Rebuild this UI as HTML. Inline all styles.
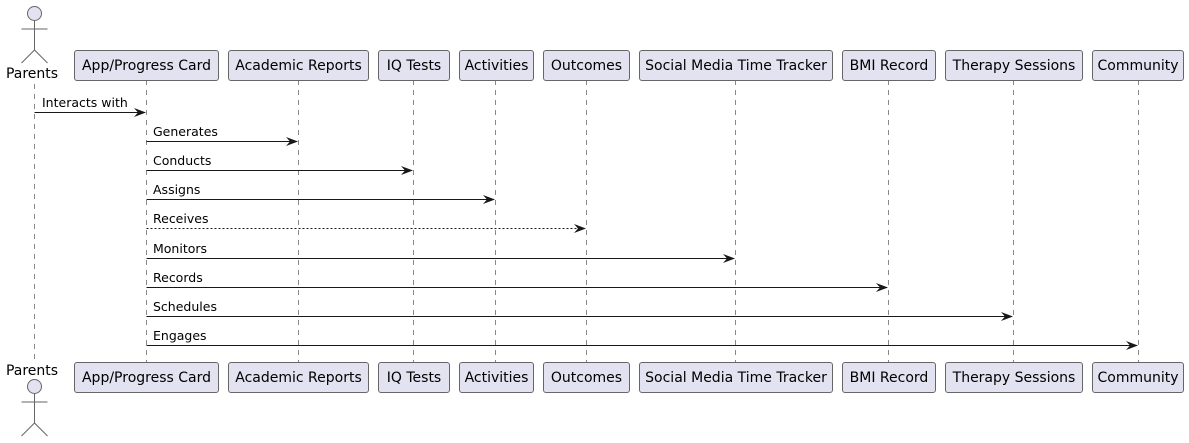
<!DOCTYPE html>
<html><head><meta charset="utf-8"><style>
html,body{margin:0;padding:0;background:#fff;}
svg{display:block;}
text{font-family:"DejaVu Sans","Liberation Sans",sans-serif;}
</style></head><body>
<svg width="1189" height="443" viewBox="0 0 1189 443" xmlns="http://www.w3.org/2000/svg">
<g stroke="#888" stroke-width="1" stroke-dasharray="5,5">
<line x1="34.5" y1="84" x2="34.5" y2="362"/>
<line x1="146.5" y1="80" x2="146.5" y2="362"/>
<line x1="298.5" y1="80" x2="298.5" y2="362"/>
<line x1="413.5" y1="80" x2="413.5" y2="362"/>
<line x1="495.5" y1="80" x2="495.5" y2="362"/>
<line x1="586.5" y1="80" x2="586.5" y2="362"/>
<line x1="735.5" y1="80" x2="735.5" y2="362"/>
<line x1="888.5" y1="80" x2="888.5" y2="362"/>
<line x1="1013.5" y1="80" x2="1013.5" y2="362"/>
<line x1="1138.5" y1="80" x2="1138.5" y2="362"/>
</g>
<g fill="#E2E2F0" stroke="#666" stroke-width="1">
<rect x="74.5" y="50.5" width="144" height="30" rx="2.5"/>
<rect x="228.5" y="50.5" width="140" height="30" rx="2.5"/>
<rect x="378.5" y="50.5" width="71" height="30" rx="2.5"/>
<rect x="459.5" y="50.5" width="74" height="30" rx="2.5"/>
<rect x="543.5" y="50.5" width="86" height="30" rx="2.5"/>
<rect x="639.5" y="50.5" width="193" height="30" rx="2.5"/>
<rect x="842.5" y="50.5" width="93" height="30" rx="2.5"/>
<rect x="945.5" y="50.5" width="137" height="30" rx="2.5"/>
<rect x="1092.5" y="50.5" width="91" height="30" rx="2.5"/>
<rect x="74.5" y="362.5" width="144" height="30" rx="2.5"/>
<rect x="228.5" y="362.5" width="140" height="30" rx="2.5"/>
<rect x="378.5" y="362.5" width="71" height="30" rx="2.5"/>
<rect x="459.5" y="362.5" width="74" height="30" rx="2.5"/>
<rect x="543.5" y="362.5" width="86" height="30" rx="2.5"/>
<rect x="639.5" y="362.5" width="193" height="30" rx="2.5"/>
<rect x="842.5" y="362.5" width="93" height="30" rx="2.5"/>
<rect x="945.5" y="362.5" width="137" height="30" rx="2.5"/>
<rect x="1092.5" y="362.5" width="91" height="30" rx="2.5"/>
</g>
<g font-size="14" fill="#000" text-anchor="middle">
<text x="146.5" y="70">App/Progress Card</text>
<text x="298.5" y="70">Academic Reports</text>
<text x="414" y="70">IQ Tests</text>
<text x="496.5" y="70">Activities</text>
<text x="586.5" y="70">Outcomes</text>
<text x="736" y="70">Social Media Time Tracker</text>
<text x="889" y="70">BMI Record</text>
<text x="1014" y="70">Therapy Sessions</text>
<text x="1138" y="70">Community</text>
<text x="146.5" y="382">App/Progress Card</text>
<text x="298.5" y="382">Academic Reports</text>
<text x="414" y="382">IQ Tests</text>
<text x="496.5" y="382">Activities</text>
<text x="586.5" y="382">Outcomes</text>
<text x="736" y="382">Social Media Time Tracker</text>
<text x="889" y="382">BMI Record</text>
<text x="1014" y="382">Therapy Sessions</text>
<text x="1138" y="382">Community</text>
<text x="32" y="78">Parents</text>
<text x="32" y="375">Parents</text>
</g>
<g fill="#E2E2F0" stroke="#666" stroke-width="1">
<circle cx="34.5" cy="13.5" r="7"/>
<circle cx="34.5" cy="386.5" r="7"/>
</g>
<g stroke="#666" stroke-width="1" fill="none">
<path d="M34.5 20.5 V50 M21.5 29 H47.5 M21.5 63 L34.5 50 L47.5 63"/>
<path d="M34.5 393.5 V423 M21.5 402 H47.5 M21.5 436 L34.5 423 L47.5 436"/>
</g>
<g stroke="#181818" stroke-width="1">
<line x1="34.5" y1="112.5" x2="145" y2="112.5"/>
<line x1="146.5" y1="141.5" x2="297" y2="141.5"/>
<line x1="146.5" y1="170.5" x2="412" y2="170.5"/>
<line x1="146.5" y1="199.5" x2="494" y2="199.5"/>
<line x1="146.5" y1="228.5" x2="585" y2="228.5" stroke-dasharray="2,2"/>
<line x1="146.5" y1="258.5" x2="734" y2="258.5"/>
<line x1="146.5" y1="287.5" x2="887" y2="287.5"/>
<line x1="146.5" y1="316.5" x2="1012" y2="316.5"/>
<line x1="146.5" y1="345.5" x2="1137" y2="345.5"/>
</g>
<g fill="#181818">
<path d="M134 108 L146 112.5 L134 117 L138 112.5 Z"/>
<path d="M286 137 L298 141.5 L286 146 L290 141.5 Z"/>
<path d="M401 166 L413 170.5 L401 175 L405 170.5 Z"/>
<path d="M483 195 L495 199.5 L483 204 L487 199.5 Z"/>
<path d="M574 224 L586 228.5 L574 233 L578 228.5 Z"/>
<path d="M723 254 L735 258.5 L723 263 L727 258.5 Z"/>
<path d="M876 283 L888 287.5 L876 292 L880 287.5 Z"/>
<path d="M1001 312 L1013 316.5 L1001 321 L1005 316.5 Z"/>
<path d="M1126 341 L1138 345.5 L1126 350 L1130 345.5 Z"/>
</g>
<g font-size="12.5" fill="#000">
<text x="42" y="107">Interacts with</text>
<text x="153" y="136">Generates</text>
<text x="153" y="165">Conducts</text>
<text x="153" y="194">Assigns</text>
<text x="153" y="223">Receives</text>
<text x="153" y="253">Monitors</text>
<text x="153" y="282">Records</text>
<text x="153" y="311">Schedules</text>
<text x="153" y="340">Engages</text>
</g>
</svg>
</body></html>
